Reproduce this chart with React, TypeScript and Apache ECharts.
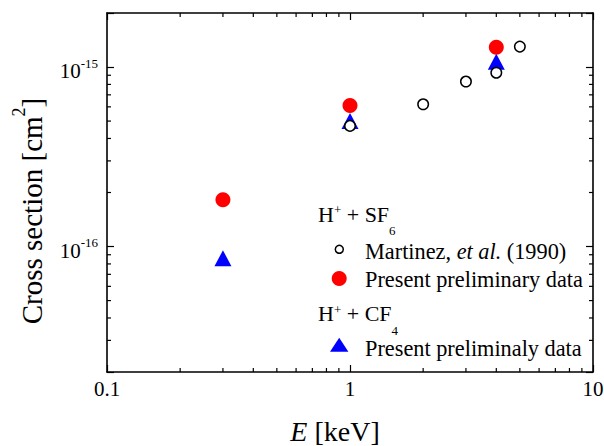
import React, { useEffect, useRef } from 'react';
import * as echarts from 'echarts';

// ---- data ----
const energyMartinez = [1, 2, 3, 4, 5];
const sigmaMartinez = [4.7e-16, 6.2e-16, 8.3e-16, 9.3e-16, 1.3e-15];
const energySF6 = [0.3, 1, 4];
const sigmaSF6 = [1.82e-16, 6.1e-16, 1.29e-15];
const energyCF4 = [0.3, 1, 4];
const sigmaCF4 = [8.6e-17, 5.0e-16, 1.07e-15];

const xRange = [0.1, 10];
const yRange = [2e-17, 2e-15];
const xMinorTicks = [0.2, 0.3, 0.4, 0.5, 0.6, 0.7, 0.8, 0.9, 2, 3, 4, 5, 6, 7, 8, 9];
const yMinorTicks = [3e-17, 4e-17, 5e-17, 6e-17, 7e-17, 8e-17, 9e-17, 2e-16, 3e-16, 4e-16, 5e-16, 6e-16, 7e-16, 8e-16, 9e-16];

const FONT = 'Liberation Serif';

function isPow10(v: number) {
  const e = Math.round(Math.log10(v));
  return Math.abs(v / Math.pow(10, e) - 1) < 1e-6 ? e : null;
}

export default function App() {
  const ref = useRef<HTMLDivElement>(null);
  useEffect(() => {
    const chart = echarts.init(ref.current!, null, { renderer: 'svg' });
    const axisLine = { show: true, lineStyle: { color: '#000', width: 1.6 } };
    const tick = { show: true, inside: true, length: 7, lineStyle: { color: '#000', width: 1.2 } };
    const t = (size: number, extra: any = {}) => ({ fontSize: size, fontFamily: FONT, color: '#000', ...extra });
    const option: any = {
      animation: false,
      backgroundColor: '#fff',
      textStyle: { fontFamily: FONT },
      grid: { left: 107, right: 11, top: 13, bottom: 74, containLabel: false, outerBoundsMode: 'none' },
      xAxis: [
        {
          type: 'log', logBase: 10, min: xRange[0], max: xRange[1], position: 'bottom',
          axisLine, axisTick: tick, splitLine: { show: false }, minorTick: { show: false },
          axisLabel: {
            show: true, margin: 6, color: '#000', fontFamily: FONT, fontSize: 21, lineHeight: 21,
            showMinLabel: true, showMaxLabel: true,
            formatter: (v: number) => (isPow10(v) === null ? '' : `{n|${Number(v.toPrecision(3))}}`),
            rich: { n: t(21, { lineHeight: 21 }) },
          },
        },
        {
          type: 'log', logBase: 10, min: xRange[0], max: xRange[1], position: 'top',
          axisLine, axisTick: tick, splitLine: { show: false }, axisLabel: { show: false },
        },
      ],
      yAxis: [
        {
          type: 'log', logBase: 10, min: yRange[0], max: yRange[1], position: 'left',
          axisLine, axisTick: tick, splitLine: { show: false },
          axisLabel: {
            show: true, margin: 9, color: '#000', fontFamily: FONT,
            formatter: (v: number) => {
              const e = isPow10(v);
              return e === null ? '' : `{b|10}{s|${e}}`;
            },
            rich: {
              b: t(21, { lineHeight: 21, padding: [4, 0, 0, 0], verticalAlign: 'top' }),
              s: t(13, { lineHeight: 13, verticalAlign: 'top' }),
            },
          },
        },
        {
          type: 'log', logBase: 10, min: yRange[0], max: yRange[1], position: 'right',
          axisLine, axisTick: tick, splitLine: { show: false }, axisLabel: { show: false },
        },
      ],
      series: [
        {
          type: 'custom', name: 'xminor', xAxisIndex: 0, yAxisIndex: 0, silent: true, z: 5,
          data: xMinorTicks.map((v) => [v, 1e-16]),
          renderItem: (params: any, api: any) => {
            const p = api.coord([api.value(0), api.value(1)]);
            const cs = params.coordSys;
            const b = cs.y + cs.height;
            return {
              type: 'group',
              children: [
                { type: 'line', shape: { x1: p[0], y1: b, x2: p[0], y2: b - 4 }, style: { stroke: '#000', lineWidth: 1.2 } },
                { type: 'line', shape: { x1: p[0], y1: cs.y, x2: p[0], y2: cs.y + 4 }, style: { stroke: '#000', lineWidth: 1.2 } },
              ],
            };
          },
        },
        {
          type: 'custom', name: 'yminor', xAxisIndex: 0, yAxisIndex: 0, silent: true, z: 5,
          data: yMinorTicks.map((v) => [1, v]),
          renderItem: (params: any, api: any) => {
            const p = api.coord([api.value(0), api.value(1)]);
            const cs = params.coordSys;
            const r = cs.x + cs.width;
            return {
              type: 'group',
              children: [
                { type: 'line', shape: { x1: cs.x, y1: p[1], x2: cs.x + 4, y2: p[1] }, style: { stroke: '#000', lineWidth: 1.2 } },
                { type: 'line', shape: { x1: r, y1: p[1], x2: r - 4, y2: p[1] }, style: { stroke: '#000', lineWidth: 1.2 } },
              ],
            };
          },
        },
        {
          type: 'scatter', name: 'CF4 present', symbol: 'triangle', symbolSize: [17, 16], z: 10,
          itemStyle: { color: '#0000ff', opacity: 1 },
          data: energyCF4.map((e, i) => [e, sigmaCF4[i]]),
        },
        {
          type: 'scatter', name: 'SF6 present', symbol: 'circle', symbolSize: 15, z: 11,
          itemStyle: { color: '#ff0000', opacity: 1 },
          data: energySF6.map((e, i) => [e, sigmaSF6[i]]),
        },
        {
          type: 'scatter', name: 'Martinez', symbol: 'circle', symbolSize: 10.5, z: 12,
          itemStyle: { color: '#fff', borderColor: '#000', borderWidth: 1.5, opacity: 1 },
          data: energyMartinez.map((e, i) => [e, sigmaMartinez[i]]),
        },
      ],
      graphic: [
        {
          type: 'text', x: 335, y: 431, silent: true,
          style: {
            text: '{i|E}{n| [keV]}', align: 'center', verticalAlign: 'middle',
            rich: {
              i: t(28, { fontStyle: 'italic', lineHeight: 20 }),
              n: t(28, { lineHeight: 20 }),
            },
          },
        },
        {
          type: 'text', x: 24, y: 211, rotation: Math.PI / 2, silent: true,
          style: {
            text: '{m|Cross section [cm}{s|2}{m|]}', align: 'center', verticalAlign: 'middle',
            rich: {
              m: t(29, { lineHeight: 29, padding: [8, 0, 0, 0], verticalAlign: 'top' }),
              s: t(18, { lineHeight: 18, verticalAlign: 'top' }),
            },
          },
        },
        // legend
        {
          type: 'text', x: 318, y: 203.3, silent: true,
          style: {
            text: '{m|H}{p|+}{m| + SF}{d|6}', align: 'left', verticalAlign: 'top',
            rich: {
              m: t(22, { lineHeight: 22, verticalAlign: 'top' }),
              p: t(13, { lineHeight: 13, verticalAlign: 'top' }),
              d: t(13, { lineHeight: 13, padding: [21, 0, 0, 0], verticalAlign: 'top' }),
            },
          },
        },
        { type: 'circle', shape: { cx: 339.3, cy: 249.3, r: 4 }, style: { fill: '#fff', stroke: '#000', lineWidth: 1.5 }, silent: true },
        {
          type: 'text', x: 365, y: 251.6, silent: true,
          style: {
            text: '{n|Martinez, }{i|et al.}{n| (1990)}', align: 'left', verticalAlign: 'middle',
            rich: {
              n: t(22.3, { lineHeight: 22 }),
              i: t(22.3, { lineHeight: 22, fontStyle: 'italic' }),
            },
          },
        },
        { type: 'circle', shape: { cx: 339.2, cy: 278.6, r: 7.5 }, style: { fill: '#ff0000' }, silent: true },
        {
          type: 'text', x: 365, y: 279.8, silent: true,
          style: {
            text: '{n|Present preliminary data}', align: 'left', verticalAlign: 'middle',
            rich: { n: t(22.3, { lineHeight: 22 }) },
          },
        },
        {
          type: 'text', x: 318, y: 302.6, silent: true,
          style: {
            text: '{m|H}{p|+}{m| + CF}{d|4}', align: 'left', verticalAlign: 'top',
            rich: {
              m: t(22, { lineHeight: 22, verticalAlign: 'top' }),
              p: t(13, { lineHeight: 13, verticalAlign: 'top' }),
              d: t(13, { lineHeight: 13, padding: [21, 0, 0, 0], verticalAlign: 'top' }),
            },
          },
        },
        {
          type: 'polygon', shape: { points: [[330, 351.7], [348.4, 351.7], [339.2, 337.7]] },
          style: { fill: '#0000ff' }, silent: true,
        },
        {
          type: 'text', x: 365, y: 348.6, silent: true,
          style: {
            text: '{n|Present preliminaly data}', align: 'left', verticalAlign: 'middle',
            rich: { n: t(22.3, { lineHeight: 22 }) },
          },
        },
      ],
    };
    chart.setOption(option);
    return () => chart.dispose();
  }, []);
  return <div ref={ref} style={{ position: 'fixed', left: 0, top: 0, width: 604, height: 446 }} />;
}
